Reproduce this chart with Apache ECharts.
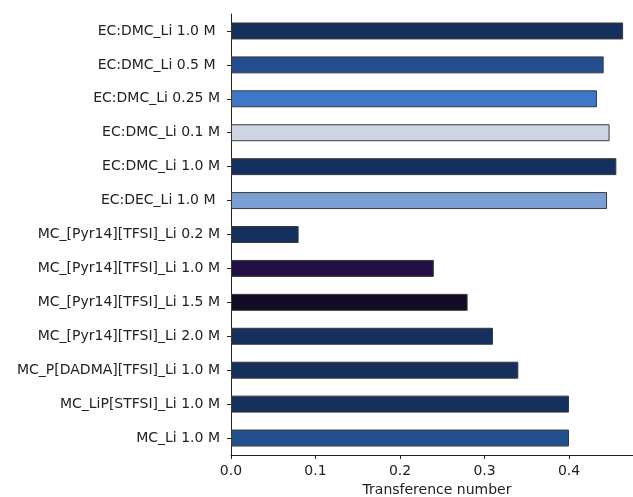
<!DOCTYPE html>
<html>
<head>
<meta charset="utf-8">
<script src="https://cdn.jsdelivr.net/npm/echarts@6/dist/echarts.min.js"></script>
<style>html,body{margin:0;padding:0;background:#fff;}#c{width:633px;height:497px;}</style>
</head>
<body>
<div id="c"></div>
<script>
const categories = [
  "EC:DMC_Li 1.0 M ",
  "EC:DMC_Li 0.5 M ",
  "EC:DMC_Li 0.25 M",
  "EC:DMC_Li 0.1 M",
  "EC:DMC_Li 1.0 M",
  "EC:DEC_Li 1.0 M ",
  "MC_[Pyr14][TFSI]_Li 0.2 M",
  "MC_[Pyr14][TFSI]_Li 1.0 M",
  "MC_[Pyr14][TFSI]_Li 1.5 M",
  "MC_[Pyr14][TFSI]_Li 2.0 M",
  "MC_P[DADMA][TFSI]_Li 1.0 M",
  "MC_LiP[STFSI]_Li 1.0 M",
  "MC_Li 1.0 M"
];
const values = [0.464, 0.441, 0.433, 0.448, 0.456, 0.445, 0.08, 0.24, 0.28, 0.31, 0.34, 0.40, 0.40];
const barColors = ["#15305c", "#234f8e", "#3f77c8", "#cdd5e3", "#15305c", "#7b9fd3", "#15305c", "#241046", "#130a24", "#15305c", "#15305c", "#15305c", "#234f8e"];
const xTicks = [0, 0.1, 0.2, 0.3, 0.4];

const chart = echarts.init(document.getElementById('c'));
chart.setOption({
  animation: false,
  grid: { left: 231, right: 0, top: 14, bottom: 42, containLabel: false, outerBoundsMode: 'none' },
  xAxis: {
    type: 'value', min: 0, max: 0.4757, interval: 0.1,
    name: 'Transference number', nameLocation: 'middle', nameGap: 28,
    nameTextStyle: { fontFamily: 'DejaVu Sans', fontSize: 14, color: '#222', padding: [0, 0, 0, 10] },
    axisLine: { show: true, lineStyle: { color: '#222', width: 1 } },
    axisTick: { show: true, length: 4, lineStyle: { color: '#222' } },
    axisLabel: { fontFamily: 'DejaVu Sans', fontSize: 14, color: '#222', margin: 9, showMaxLabel: false,
      formatter: v => xTicks.some(t => Math.abs(t - v) < 1e-9) ? v.toFixed(1) : '' },
    splitLine: { show: false }
  },
  yAxis: {
    type: 'category', data: categories, inverse: true,
    axisLine: { show: true, lineStyle: { color: '#222', width: 1 } },
    axisTick: { show: true, alignWithLabel: true, length: 4, lineStyle: { color: '#222' } },
    axisLabel: { fontFamily: 'DejaVu Sans', fontSize: 14, color: '#222', margin: 11 },
    splitLine: { show: false }
  },
  series: [{
    type: 'bar',
    data: values.map((v, i) => ({ value: v, itemStyle: { color: barColors[i] } })),
    barWidth: '50%',
    itemStyle: { borderColor: '#3a3a3a', borderWidth: 1 }
  }]
});
</script>
</body>
</html>
